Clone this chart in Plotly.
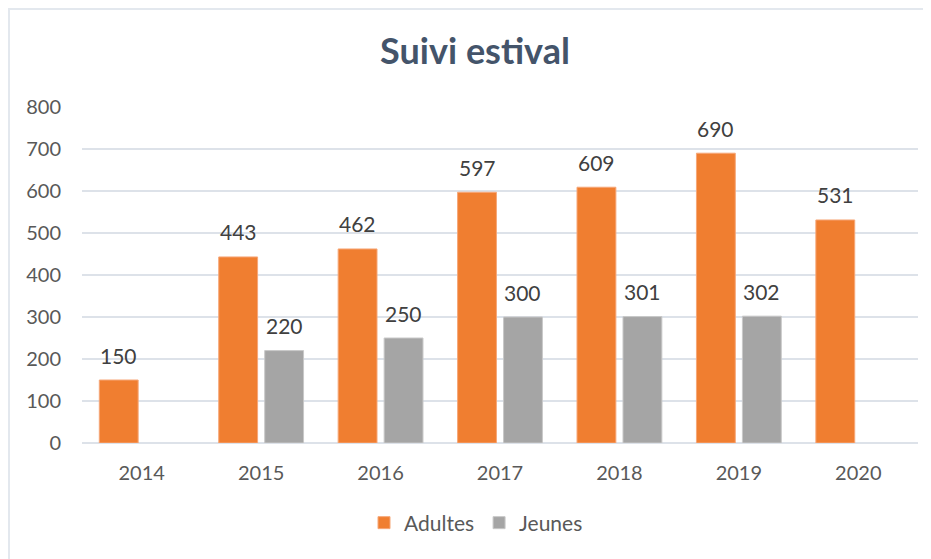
import plotly.graph_objects as go

years = ["2014", "2015", "2016", "2017", "2018", "2019", "2020"]
adultes = [150, 443, 462, 597, 609, 690, 531]
jeunes = [None, 220, 250, 300, 301, 302, None]
y_ticks = [0, 100, 200, 300, 400, 500, 600, 700, 800]

# page body has an 8px margin, so the figure is shrunk by that amount
OFF = 8
W, H = 931 - OFF, 559 - OFF
ML, MR, MT, MB = 82 - OFF, 13, 107 - OFF, 116
PW, PH = W - ML - MR, H - MT - MB

BARGAP, GROUPGAP = 0.23, 0.155
FONT = "Lato"
TXT = "#404040"

fig = go.Figure()
fig.add_bar(x=years, y=adultes, name="Adultes",
            marker=dict(color="#F07E30", line=dict(color="#F6A778", width=1)))
fig.add_bar(x=years, y=jeunes, name="Jeunes",
            marker=dict(color="#A5A5A5", line=dict(color="#C8C8C8", width=1)))

# data labels above the bars (x given as category index on the category axis)
cat_w = PW / len(years)
shift = (1 - BARGAP) * cat_w / 4
for series, dx in ((adultes, -shift), (jeunes, shift)):
    for i, v in enumerate(series):
        if v is None:
            continue
        fig.add_annotation(x=i, y=v, xref="x", yref="y", text=str(v),
                           showarrow=False, xshift=dx, yshift=25,
                           yanchor="middle",
                           font=dict(size=21, color=TXT, family=FONT))

fig.update_layout(
    width=W, height=H,
    margin=dict(l=ML, r=MR, t=MT, b=MB),
    paper_bgcolor="white", plot_bgcolor="white",
    barmode="group", bargap=BARGAP, bargroupgap=GROUPGAP,
    font=dict(family=FONT, color="#595959"),
    title=dict(text="<b>Suivi estival</b>", x=(475 - OFF) / W, xanchor="center",
               y=1 - (51 - OFF) / H, yanchor="middle",
               font=dict(size=36, color="#44546A", family=FONT)),
    legend=dict(orientation="h", x=(476 - ML - OFF) / PW, xanchor="center",
                y=-(523 - 443) / PH, yanchor="middle",
                font=dict(size=21, color="#595959"), itemwidth=30,
                traceorder="normal"),
    showlegend=True,
)
fig.update_xaxes(type="category", categoryorder="array", categoryarray=years,
                 range=[-0.5, len(years) - 0.5],
                 showgrid=False, showline=False, ticks="",
                 tickfont=dict(size=20, color="#595959"),
                 ticklabelstandoff=16)
fig.update_yaxes(range=[0, 800], tickvals=y_ticks, showgrid=True,
                 gridcolor="#DDE2E9", gridwidth=1.5, zeroline=True,
                 zerolinecolor="#DDE2E9", zerolinewidth=1.5,
                 ticks="", tickfont=dict(size=20, color="#595959"),
                 ticklabelstandoff=20)

# light chart border (top and left edges)
fig.add_shape(type="line", xref="paper", yref="paper",
              x0=-ML / PW, x1=(W - ML) / PW,
              y0=1 + (MT - 1) / PH, y1=1 + (MT - 1) / PH,
              line=dict(color="#E3E8EE", width=2))
fig.add_shape(type="line", xref="paper", yref="paper",
              x0=(1 - ML) / PW, x1=(1 - ML) / PW,
              y0=1 + MT / PH, y1=-MB / PH,
              line=dict(color="#E3E8EE", width=2))

fig.write_html("out.html")
